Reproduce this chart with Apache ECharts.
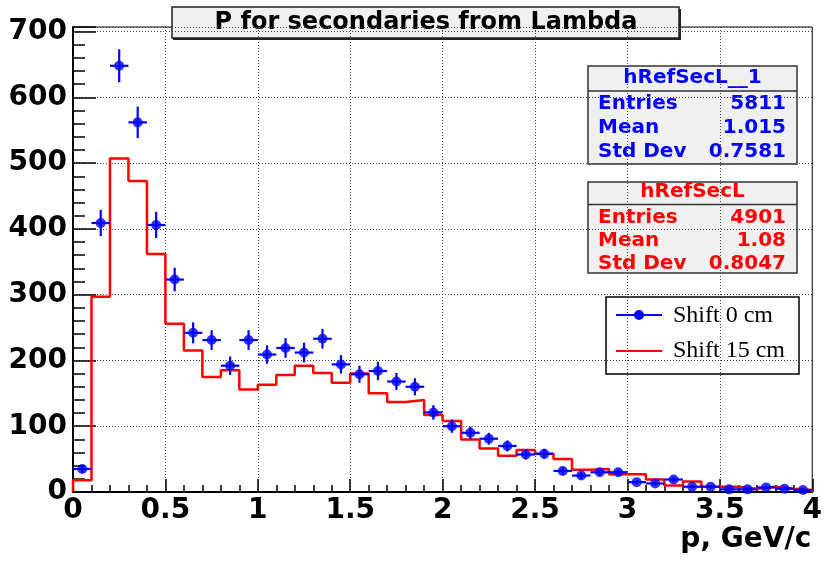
<!DOCTYPE html>
<html>
<head>
<meta charset="utf-8">
<script src="https://cdn.jsdelivr.net/npm/echarts@6/dist/echarts.min.js"></script>
<style>html,body{margin:0;padding:0;background:#fff;}#c{width:825px;height:564px;}</style>
</head>
<body>
<div id="c"></div>
<script>
// ---- data ----
const binWidth = 0.1;
const nBins = 40;
const xTicks = ['0', '0.5', '1', '1.5', '2', '2.5', '3', '3.5', '4'];
// "Shift 0 cm" (hRefSecL__1): bin contents at bin centres, with error bars
const blueValues = [35, 409, 648, 562, 406, 323, 242, 231, 192, 231,
                    209, 219, 212, 233, 194, 179, 184, 168, 160, 121,
                    100, 90, 81, 70, 57, 58, 32, 25, 30, 30,
                    15, 13, 19, 8, 8, 4, 4, 7, 5, 3];
const blueErrors = [6, 20, 25, 24, 20, 18, 16, 15, 14, 15,
                    14, 15, 15, 15, 14, 13, 14, 13, 13, 11,
                    10, 9.5, 9, 8.4, 7.5, 7.6, 5.7, 5, 5.5, 5.5,
                    3.9, 3.6, 4.4, 2.8, 2.8, 2, 2, 2.6, 2.2, 1.7];
// "Shift 15 cm" (hRefSecL): step histogram bin contents
const redValues = [18, 297, 507, 473, 362, 256, 215, 175, 185, 156,
                   163, 178, 192, 181, 166, 180, 150, 137, 140, 117,
                   108, 80, 66, 55, 64, 58, 50, 34, 35, 27,
                   27, 19, 10, 16, 8, 8, 5, 8, 5, 3];
const titleText = 'P for secondaries from Lambda';
const xAxisTitle = 'p, GeV/c';
const legendNames = ['Shift 0 cm', 'Shift 15 cm'];
const blueStats = {name: 'hRefSecL__1', rows: [['Entries', '5811'], ['Mean', '1.015'], ['Std Dev', '0.7581']]};
const redStats = {name: 'hRefSecL', rows: [['Entries', '4901'], ['Mean', '1.08'], ['Std Dev', '0.8047']]};

// ---- build series data ----
const blueData = blueValues.map((v, i) => [(i + 0.5) * binWidth, v, blueErrors[i]]);
const redData = [[0, 0]];
redValues.forEach((v, i) => redData.push([i * binWidth, v]));
redData.push([nBins * binWidth, redValues[nBins - 1]]);
redData.push([nBins * binWidth, 0]);

const BLUE = '#0000ff', RED = '#ff0000';
const BOLD = 'DejaVu Sans';

function statsBox(st, color, x, y, w, h, headH, rowYs) {
  const f = 'bold 20px "' + BOLD + '"';
  const children = [
    {type: 'rect', shape: {x: x, y: y, width: w, height: h}, style: {fill: '#f0f0f0', stroke: '#333', lineWidth: 1.5}},
    {type: 'line', shape: {x1: x, y1: y + headH, x2: x + w, y2: y + headH}, style: {stroke: '#333', lineWidth: 1.5}},
    {type: 'text', x: x + w / 2, y: y + headH / 2 - 1, style: {text: st.name, fill: color, font: f, align: 'center', verticalAlign: 'middle'}}
  ];
  st.rows.forEach((r, i) => {
    children.push({type: 'text', x: x + 10, y: rowYs[i], style: {text: r[0], fill: color, font: f, align: 'left', verticalAlign: 'middle'}});
    children.push({type: 'text', x: x + w - 11, y: rowYs[i], style: {text: r[1], fill: color, font: f, align: 'right', verticalAlign: 'middle'}});
  });
  return {type: 'group', children: children, z: 100};
}

const chart = echarts.init(document.getElementById('c'), null, {renderer: 'canvas'});
const option = {
  animation: false,
  backgroundColor: '#fff',
  grid: {left: 73, top: 27, width: 745, height: 465, show: true, borderColor: '#000', borderWidth: 1, backgroundColor: 'transparent'},
  xAxis: {
    type: 'value', min: 0, max: 4, interval: 0.5,
    name: xAxisTitle, nameLocation: 'end', nameGap: -1,
    nameTextStyle: {fontFamily: BOLD, fontWeight: 'bold', fontSize: 28, color: '#000', align: 'right', verticalAlign: 'top', padding: [34, 0, 0, 0]},
    axisLine: {show: true, onZero: false, lineStyle: {color: '#000', width: 2}},
    axisTick: {show: true, inside: true, length: 13, lineStyle: {color: '#000', width: 1.5}},
    minorTick: {show: true, splitNumber: 5, length: 7, lineStyle: {color: '#000', width: 1.5}},
    axisLabel: {fontFamily: BOLD, fontWeight: 'bold', fontSize: 28, color: '#000', margin: 5,
      formatter: v => { const s = xTicks.find(t => Math.abs(parseFloat(t) - v) < 1e-6); return s === undefined ? '' : s; }},
    splitLine: {show: true, lineStyle: {color: '#444', type: [1, 2], width: 1}},
    minorSplitLine: {show: false}
  },
  yAxis: {
    type: 'value', min: 0, max: 707, interval: 100,
    axisLine: {show: true, onZero: false, lineStyle: {color: '#000', width: 2}},
    axisTick: {show: true, inside: true, length: 23, lineStyle: {color: '#000', width: 1.5}},
    minorTick: {show: true, splitNumber: 5, length: 12, lineStyle: {color: '#000', width: 1.5}},
    axisLabel: {fontFamily: BOLD, fontWeight: 'bold', fontSize: 28, color: '#000', margin: 6, showMaxLabel: false,
      formatter: v => (Math.abs(v % 100) < 1e-6 ? String(v) : '')},
    splitLine: {show: true, lineStyle: {color: '#444', type: [1, 2], width: 1}}
  },
  series: [
    {
      name: legendNames[1], type: 'line', step: 'end', data: redData, showSymbol: false, symbol: 'none',
      lineStyle: {color: RED, width: 2.5}, z: 3
    },
    {
      name: legendNames[0] + ' errors', type: 'custom', data: blueData, z: 4,
      renderItem: function (params, api) {
        const x = api.value(0), y = api.value(1), e = api.value(2);
        const c = api.coord([x, y]);
        const lo = api.coord([x, y - e]);
        const hi = api.coord([x, y + e]);
        const l = api.coord([x - binWidth / 2, y]);
        const r = api.coord([x + binWidth / 2, y]);
        return {type: 'group', children: [
          {type: 'line', shape: {x1: c[0], y1: lo[1], x2: c[0], y2: hi[1]}, style: {stroke: BLUE, lineWidth: 2.2}},
          {type: 'line', shape: {x1: l[0], y1: c[1], x2: r[0], y2: c[1]}, style: {stroke: BLUE, lineWidth: 2.2}}
        ]};
      }
    },
    {
      name: legendNames[0], type: 'scatter', data: blueData.map(d => [d[0], d[1]]),
      symbol: 'circle', symbolSize: 10, itemStyle: {color: BLUE}, z: 5
    }
  ],
  graphic: [
    // title box
    {type: 'group', z: 100, children: [
      {type: 'rect', shape: {x: 173, y: 9, width: 508, height: 31}, style: {fill: '#222'}},
      {type: 'rect', shape: {x: 172, y: 7, width: 507, height: 31}, style: {fill: '#f0f0f0', stroke: '#222', lineWidth: 1.5}},
      {type: 'text', x: 426, y: 23, style: {text: titleText, fill: '#000', font: 'bold 24px "' + BOLD + '"', align: 'center', verticalAlign: 'middle'}}
    ]},
    statsBox(blueStats, BLUE, 588, 66, 209, 98, 25, [104, 128, 152]),
    statsBox(redStats, RED, 588, 182, 209, 91, 22.5, [217.5, 240.5, 263.5]),
    // legend box
    {type: 'group', z: 100, children: [
      {type: 'rect', shape: {x: 606, y: 297, width: 193, height: 77}, style: {fill: '#fff', stroke: '#000', lineWidth: 1.5}},
      {type: 'line', shape: {x1: 616, y1: 315, x2: 662, y2: 315}, style: {stroke: BLUE, lineWidth: 2.2}},
      {type: 'circle', shape: {cx: 639, cy: 315, r: 5}, style: {fill: BLUE}},
      {type: 'text', x: 673, y: 316, style: {text: legendNames[0], fill: '#000', font: '24px "Liberation Serif"', align: 'left', verticalAlign: 'middle'}},
      {type: 'line', shape: {x1: 616, y1: 351, x2: 662, y2: 351}, style: {stroke: RED, lineWidth: 2.2}},
      {type: 'text', x: 673, y: 351, style: {text: legendNames[1], fill: '#000', font: '24px "Liberation Serif"', align: 'left', verticalAlign: 'middle'}}
    ]}
  ]
};
chart.setOption(option);
</script>
</body>
</html>
